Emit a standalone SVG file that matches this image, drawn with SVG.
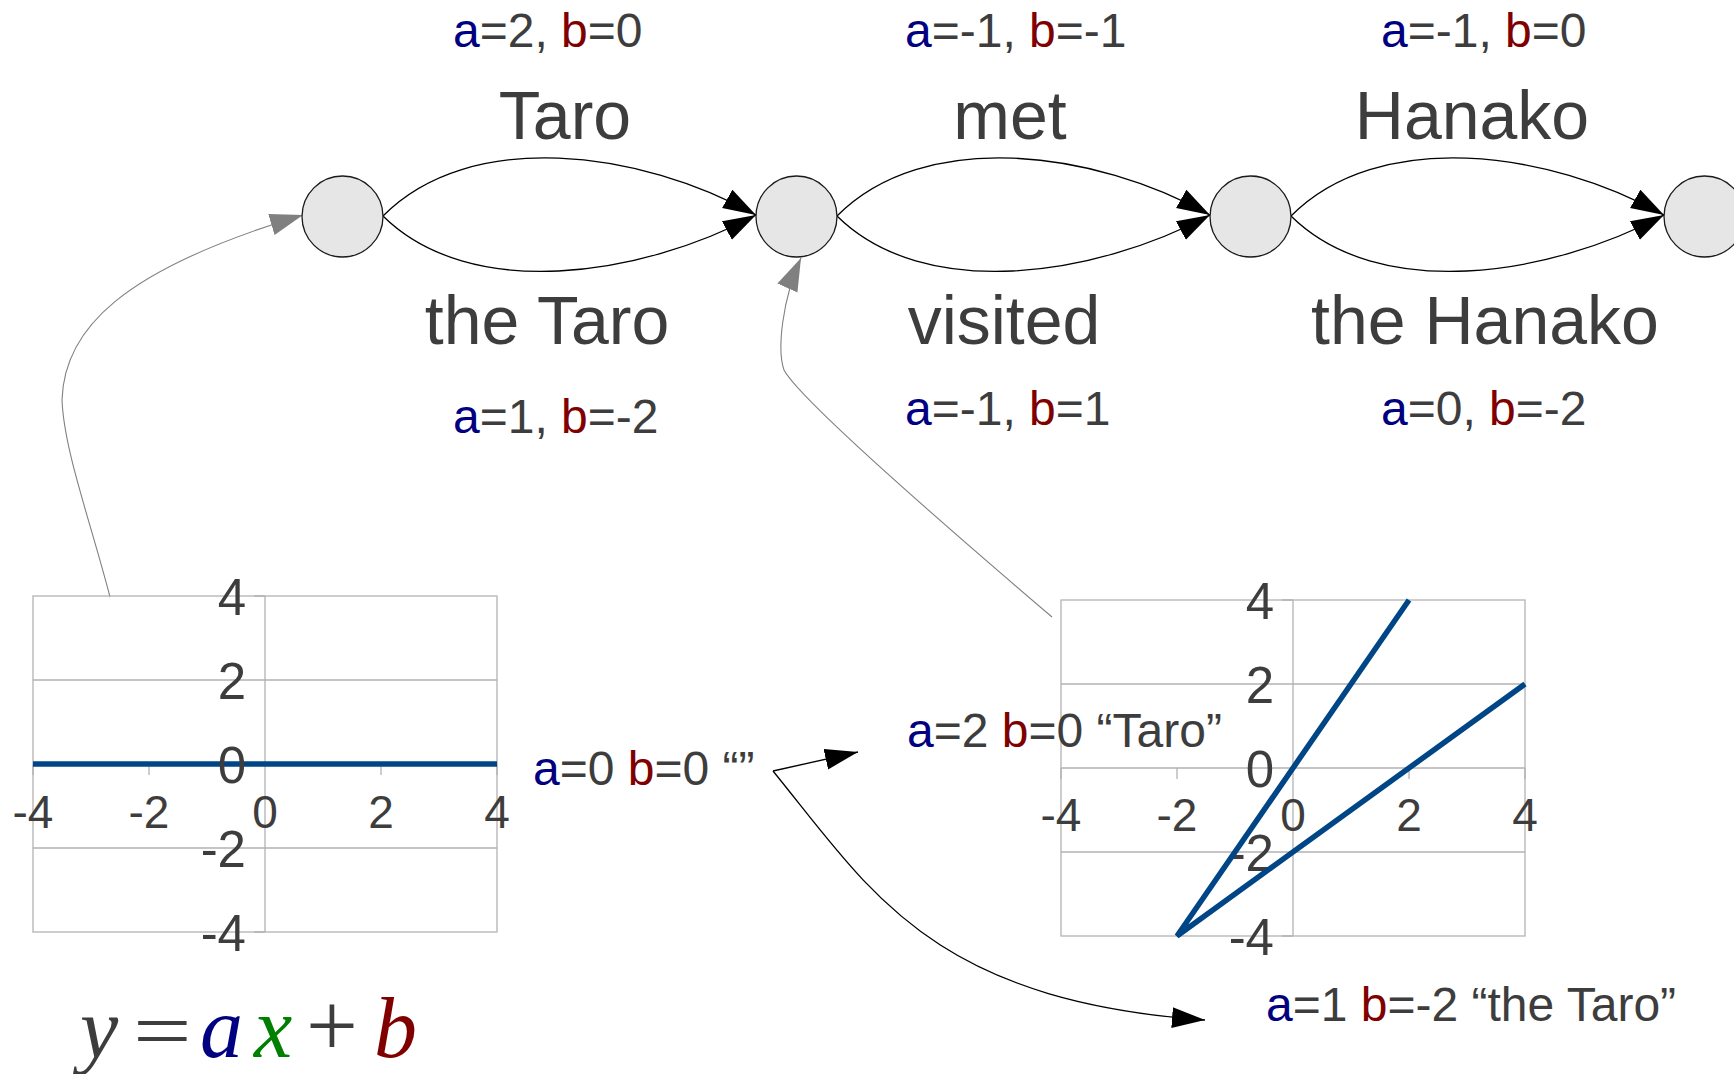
<svg xmlns="http://www.w3.org/2000/svg" width="1734" height="1074" viewBox="0 0 1734 1074">
<style>
text{font-family:"Liberation Sans",Arial,sans-serif;fill:#3d3d3d}
.small{font-size:48px}
.big{font-size:68px;text-anchor:middle}
.a{fill:#000080}
.b{fill:#800000}
.node{fill:#e6e6e6;stroke:#1a1a1a;stroke-width:1.3}
.edge{fill:none;stroke:#000;stroke-width:1.3;marker-end:url(#ab)}
.gray{fill:none;stroke:#808080;stroke-width:1.1;marker-end:url(#ag)}
.grid{stroke:#b3b3b3;stroke-width:1.3;fill:none}
.plot{stroke:#004586;stroke-width:5.5;fill:none;stroke-linecap:butt}
.xl{font-size:46px;text-anchor:middle}
.yl{font-size:51px;text-anchor:end}
.f{font-family:"Liberation Serif","Times New Roman",serif;font-size:86px;font-style:italic}
.fu{font-family:"Liberation Serif","Times New Roman",serif}
</style>
<defs>
<marker id="ab" markerUnits="userSpaceOnUse" markerWidth="34" markerHeight="22" refX="33" refY="10.5" orient="auto">
<path d="M0,0 L33,10.5 L0,21 z" fill="#000"/>
</marker>
<marker id="ag" markerUnits="userSpaceOnUse" markerWidth="34" markerHeight="23" refX="33" refY="11" orient="auto">
<path d="M0,0 L33,11 L0,22 z" fill="#808080"/>
</marker>
</defs>

<g id="connectors">
<path class="edge" d="M383,216 C470,128 640,150 756,215"/>
<path class="edge" d="M383,216 C470,302 640,277 756,215"/>
<path class="edge" d="M837,216 C924,128 1094,150 1210,215"/>
<path class="edge" d="M837,216 C924,302 1094,277 1210,215"/>
<path class="edge" d="M1291,216 C1378,128 1548,150 1664,215"/>
<path class="edge" d="M1291,216 C1378,302 1548,277 1664,215"/>
<path class="gray" d="M110,597 C90,520 64,450 62,400 C64,330 120,270 303,215"/>
<path class="gray" d="M1052,617 C950,530 800,400 784,370 C777,350 782,300 801,258"/>
<path class="edge" d="M773,771 L858,752"/>
<path class="edge" d="M773,771 C870,890 930,1000 1205,1020"/>
</g>

<g id="node1"><circle class="node" cx="342.5" cy="216.5" r="40.5"/></g>
<g id="node2"><circle class="node" cx="796.5" cy="216.5" r="40.5"/></g>
<g id="node3"><circle class="node" cx="1250.5" cy="216.5" r="40.5"/></g>
<g id="node4"><circle class="node" cx="1704.5" cy="216.5" r="40.5"/></g>

<g id="edge-labels">
<text class="small" x="453" y="47"><tspan class="a">a</tspan>=2, <tspan class="b">b</tspan>=0</text>
<text class="big" x="565" y="139">Taro</text>
<text class="big" x="547" y="344">the Taro</text>
<text class="small" x="453" y="433"><tspan class="a">a</tspan>=1, <tspan class="b">b</tspan>=-2</text>

<text class="small" x="905" y="47"><tspan class="a">a</tspan>=-1, <tspan class="b">b</tspan>=-1</text>
<text class="big" x="1010" y="139">met</text>
<text class="big" x="1004" y="344">visited</text>
<text class="small" x="905" y="425"><tspan class="a">a</tspan>=-1, <tspan class="b">b</tspan>=1</text>

<text class="small" x="1381" y="47"><tspan class="a">a</tspan>=-1, <tspan class="b">b</tspan>=0</text>
<text class="big" x="1472" y="139">Hanako</text>
<text class="big" x="1485" y="344">the Hanako</text>
<text class="small" x="1381" y="425"><tspan class="a">a</tspan>=0, <tspan class="b">b</tspan>=-2</text>
</g>

<g id="chart-left">
<rect class="grid" x="33" y="596" width="464" height="336"/>
<path class="grid" d="M33,680 H497 M33,848 H497 M265,596 V932 M33,764 V775 M149,764 V775 M265,764 V775 M381,764 V775 M497,764 V775 M254,596 H265 M254,680 H265 M254,764 H265 M254,848 H265 M254,932 H265"/>
<path class="plot" d="M33,764 H497"/>
<text class="xl" x="33" y="828">-4</text>
<text class="xl" x="149" y="828">-2</text>
<text class="xl" x="265" y="828">0</text>
<text class="xl" x="381" y="828">2</text>
<text class="xl" x="497" y="828">4</text>
<text class="yl" x="246" y="615">4</text>
<text class="yl" x="246" y="699">2</text>
<text class="yl" x="246" y="783">0</text>
<text class="yl" x="246" y="867">-2</text>
<text class="yl" x="246" y="951">-4</text>
</g>

<g id="chart-right">
<rect class="grid" x="1061" y="600" width="464" height="336"/>
<path class="grid" d="M1061,684 H1525 M1061,768 H1525 M1061,852 H1525 M1293,600 V936 M1061,768 V779 M1177,768 V779 M1293,768 V779 M1409,768 V779 M1525,768 V779 M1282,600 H1293 M1282,684 H1293 M1282,768 H1293 M1282,852 H1293 M1282,936 H1293"/>
<text class="xl" x="1061" y="831">-4</text>
<text class="xl" x="1177" y="831">-2</text>
<text class="xl" x="1293" y="831">0</text>
<text class="xl" x="1409" y="831">2</text>
<text class="xl" x="1525" y="831">4</text>
<text class="yl" x="1274" y="619">4</text>
<text class="yl" x="1274" y="703">2</text>
<text class="yl" x="1274" y="787">0</text>
<text class="yl" x="1274" y="871">-2</text>
<text class="yl" x="1274" y="955">-4</text>
<path class="plot" d="M1409,600 L1177,936 L1525,684" stroke-linejoin="miter"/>
</g>

<g id="labels">
<text class="small" x="533" y="785"><tspan class="a">a</tspan>=0 <tspan class="b">b</tspan>=0 “”</text>
<text class="small" x="907" y="747"><tspan class="a">a</tspan>=2 <tspan class="b">b</tspan>=0 “Taro”</text>
<text class="small" x="1266" y="1021"><tspan class="a">a</tspan>=1 <tspan class="b">b</tspan>=-2 “the Taro”</text>
</g>

<g id="formula">
<text class="f" y="1057"><tspan x="80">y</tspan><tspan class="a" x="200">a</tspan><tspan x="254" fill="#008000">x</tspan><tspan class="b" x="374">b</tspan></text>
<text class="fu" font-size="80" transform="translate(133,1058) scale(1.3,1)" x="0" y="0">=</text>
<text class="fu" font-size="92" x="306" y="1056">+</text>
</g>
</svg>
